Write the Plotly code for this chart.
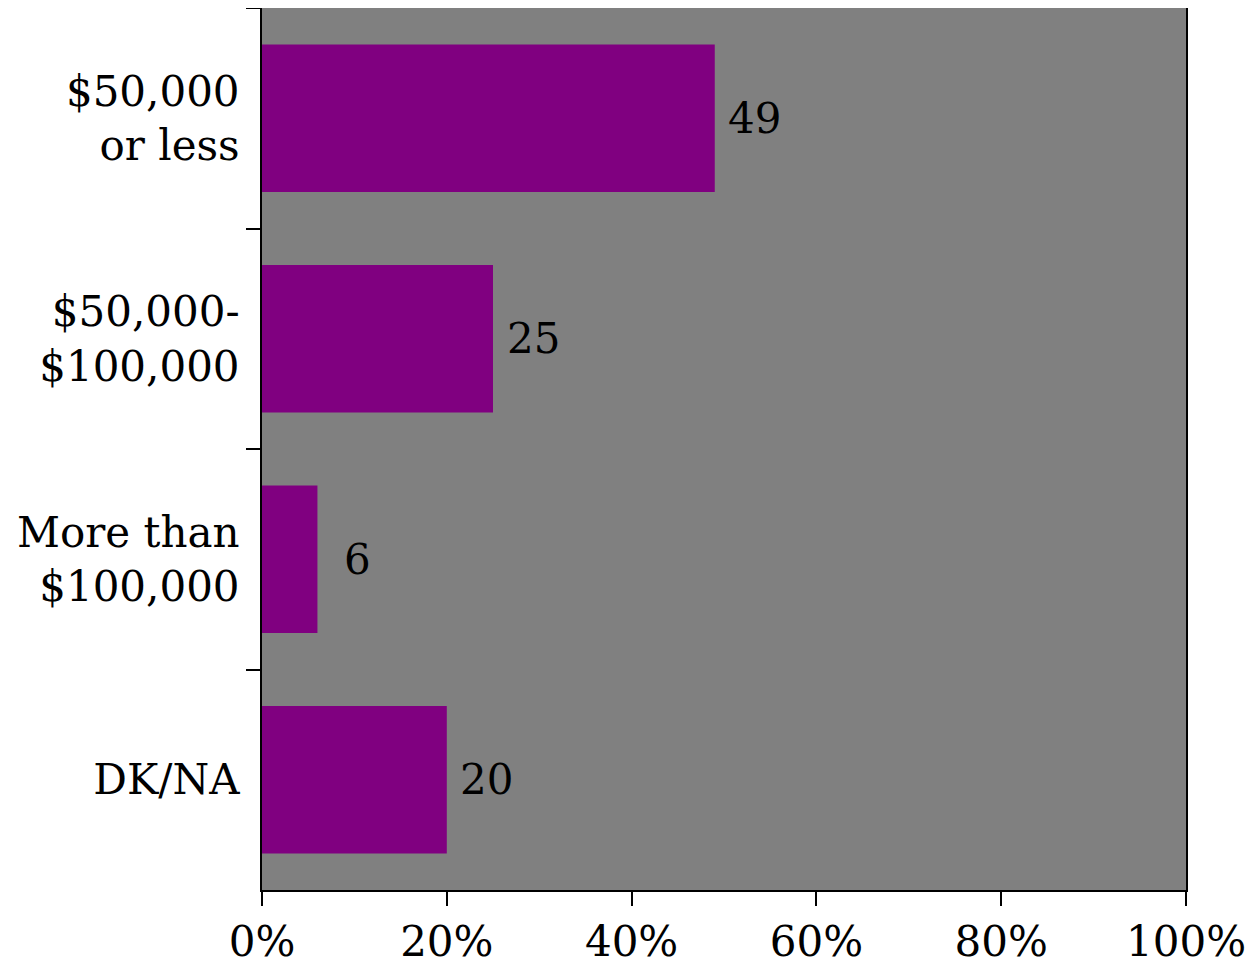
import plotly.graph_objects as go

categories = ["$50,000<br>or less", "$50,000-<br>$100,000", "More than<br>$100,000", "DK/NA"]
values = [49, 25, 6, 20]
value_labels = ["49", "25", "6", "20"]
x_ticks = [0, 20, 40, 60, 80, 100]
x_tick_labels = ["0%", "20%", "40%", "60%", "80%", "100%"]

FONT = "DejaVu Serif"
FS = 42

fig = go.Figure()
fig.add_trace(go.Bar(
    y=categories, x=values, orientation="h",
    marker=dict(color="#800080", line=dict(width=0)),
    width=0.67,
    hoverinfo="skip",
))

for c, v, t in zip(categories, values, value_labels):
    fig.add_annotation(x=v, y=c, text=t, showarrow=False, xanchor="center",
                       yanchor="middle", xshift=40,
                       font=dict(family=FONT, size=FS, color="black"))

fig.update_layout(
    width=1248, height=963,
    margin=dict(l=254, r=70, t=0, b=81),
    paper_bgcolor="white", plot_bgcolor="#808080",
    showlegend=False,
    font=dict(family=FONT, size=FS, color="black"),
)
fig.update_xaxes(
    range=[0, 100], tickvals=x_ticks, ticktext=x_tick_labels,
    showgrid=False, zeroline=False, automargin=False,
    showline=True, linecolor="black", linewidth=2, mirror=True,
    ticks="outside", ticklen=14, tickwidth=2, tickcolor="black",
    tickfont=dict(family=FONT, size=FS),
)
fig.update_yaxes(
    autorange="reversed", showgrid=False, zeroline=False, automargin=False,
    showline=True, linecolor="black", linewidth=2, mirror=True,
    ticks="outside", ticklen=14, tickwidth=2, tickcolor="black",
    tickson="boundaries", ticklabelstandoff=12,
    tickfont=dict(family=FONT, size=FS),
)

fig.write_html("out.html")
